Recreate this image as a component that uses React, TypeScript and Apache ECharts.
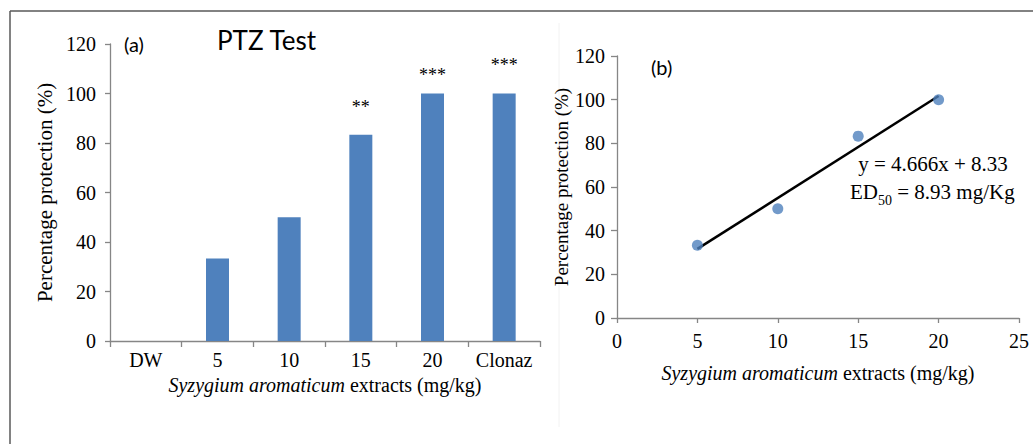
import React, { useEffect, useRef } from "react";
import * as echarts from "echarts";

const categories = ["DW", "5", "10", "15", "20", "Clonaz"];
const protection = [0, 33.3, 50, 83.3, 100, 100];
const stars = ["", "", "", "**", "***", "***"];
const starGap = [0, 0, 0, 19, 10, 20];
const doses = [5, 10, 15, 20];
const doseProtection = [33.3, 50, 83.3, 100];
const slope = 4.666;
const intercept = 8.33;
const equationText = "y = 4.666x + 8.33";
const ed50Value = "8.93 mg/Kg";

const SERIF = "Liberation Serif";
const AXIS = "#868686";
const BAR = "#4F81BD";

export default function App() {
  const ref = useRef<HTMLDivElement>(null);
  useEffect(() => {
    if (!ref.current) return;
    const chart = echarts.init(ref.current, undefined, { renderer: "svg" });
    const xNameRich = {
      i: { fontFamily: SERIF, fontSize: 20, fontStyle: "italic", color: "#000" },
      n: { fontFamily: SERIF, fontSize: 20, color: "#000" },
    };
    const trend = [doses[0], doses[doses.length - 1]].map((x) => [x, slope * x + intercept]);
    chart.setOption({
      animation: false,
      backgroundColor: "#fff",
      grid: [
        { left: 110, top: 44, width: 430, height: 297 },
        { left: 617, top: 56, width: 402, height: 262 },
      ],
      xAxis: [
        {
          type: "category",
          gridIndex: 0,
          data: categories,
          boundaryGap: true,
          axisLine: { lineStyle: { color: AXIS, width: 1.3 } },
          axisTick: { show: true, length: 6, interval: 0, lineStyle: { color: AXIS, width: 1.3 } },
          axisLabel: { fontFamily: SERIF, fontSize: 20, color: "#000", margin: 9, interval: 0 },
          name: "{i|Syzygium aromaticum}{n| extracts (mg/kg)}",
          nameLocation: "middle",
          nameGap: 31,
          nameTextStyle: { rich: xNameRich },
        },
        {
          type: "value",
          gridIndex: 1,
          min: 0,
          max: 25,
          interval: 5,
          splitLine: { show: false },
          axisLine: { lineStyle: { color: AXIS, width: 1.3 } },
          axisTick: { show: true, length: 5, lineStyle: { color: AXIS, width: 1.3 } },
          axisLabel: { fontFamily: SERIF, fontSize: 20, color: "#000", margin: 13 },
          name: "{i|Syzygium aromaticum}{n| extracts (mg/kg)}",
          nameLocation: "middle",
          nameGap: 45,
          nameTextStyle: { rich: xNameRich },
        },
      ],
      yAxis: [
        {
          type: "value",
          gridIndex: 0,
          min: 0,
          max: 120,
          interval: 20,
          splitLine: { show: false },
          axisLine: { show: true, lineStyle: { color: AXIS, width: 1.3 } },
          axisTick: { show: true, length: 5, lineStyle: { color: AXIS, width: 1.3 } },
          axisLabel: { fontFamily: SERIF, fontSize: 20, color: "#000", margin: 14 },
          name: "Percentage protection (%)",
          nameLocation: "middle",
          nameRotate: 90,
          nameGap: 55,
          nameTextStyle: { fontFamily: SERIF, fontSize: 21, color: "#000" },
        },
        {
          type: "value",
          gridIndex: 1,
          min: 0,
          max: 120,
          interval: 20,
          splitLine: { show: false },
          axisLine: { show: true, lineStyle: { color: AXIS, width: 1.3 } },
          axisTick: { show: true, length: 6, lineStyle: { color: AXIS, width: 1.3 } },
          axisLabel: { fontFamily: SERIF, fontSize: 20, color: "#000", margin: 12 },
          name: "Percentage protection (%)",
          nameLocation: "middle",
          nameRotate: 90,
          nameGap: 45,
          nameTextStyle: { fontFamily: SERIF, fontSize: 19, color: "#000" },
        },
      ],
      series: [
        {
          type: "bar",
          xAxisIndex: 0,
          yAxisIndex: 0,
          barWidth: 23,
          itemStyle: { color: BAR },
          data: protection.map((v, i) => ({
            value: v,
            label: {
              show: stars[i] !== "",
              position: "top",
              distance: starGap[i],
              formatter: stars[i],
              fontFamily: SERIF,
              fontSize: 18,
              color: "#000",
            },
          })),
        },
        {
          type: "line",
          xAxisIndex: 1,
          yAxisIndex: 1,
          data: trend,
          showSymbol: false,
          lineStyle: { color: "#000", width: 2.5 },
          z: 2,
        },
        {
          type: "scatter",
          xAxisIndex: 1,
          yAxisIndex: 1,
          data: doses.map((x, i) => [x, doseProtection[i]]),
          symbolSize: 11,
          itemStyle: { color: BAR },
          z: 3,
        },
      ],
      graphic: [
        { type: "line", shape: { x1: 10, y1: 11, x2: 1033, y2: 11 }, style: { stroke: "#595959", lineWidth: 1.5 } },
        { type: "line", shape: { x1: 10, y1: 11, x2: 10, y2: 444 }, style: { stroke: "#595959", lineWidth: 1.5 } },
        { type: "line", shape: { x1: 559, y1: 23, x2: 559, y2: 427 }, style: { stroke: "#f2f2f2", lineWidth: 1 } },
        {
          type: "text",
          x: 217,
          y: 40,
          style: { text: "PTZ Test", font: "26px Lato", fill: "#000", verticalAlign: "middle" },
        },
        {
          type: "text",
          x: 124,
          y: 44,
          style: { text: "(a)", font: "20px Lato", fill: "#000", verticalAlign: "middle" },
        },
        {
          type: "text",
          x: 651,
          y: 67,
          style: { text: "(b)", font: "20px Lato", fill: "#000", verticalAlign: "middle" },
        },
        {
          type: "text",
          x: 933,
          y: 164,
          style: {
            text: equationText,
            font: "21px 'Liberation Serif'",
            fill: "#000",
            align: "center",
            verticalAlign: "middle",
          },
        },
        {
          type: "text",
          x: 850,
          y: 192,
          style: {
            text: "{n|ED}{s|50}{n| = " + ed50Value + "}",
            font: "21px 'Liberation Serif'",
            fill: "#000",
            verticalAlign: "middle",
            rich: {
              n: { fontFamily: SERIF, fontSize: 21, fill: "#000", verticalAlign: "middle", lineHeight: 30 },
              s: { fontFamily: SERIF, fontSize: 14, fill: "#000", verticalAlign: "bottom", lineHeight: 14 },
            },
          },
        },
      ],
    });
    return () => chart.dispose();
  }, []);
  return <div ref={ref} style={{ position: "absolute", left: 0, top: 0, width: 1033, height: 444 }} />;
}
